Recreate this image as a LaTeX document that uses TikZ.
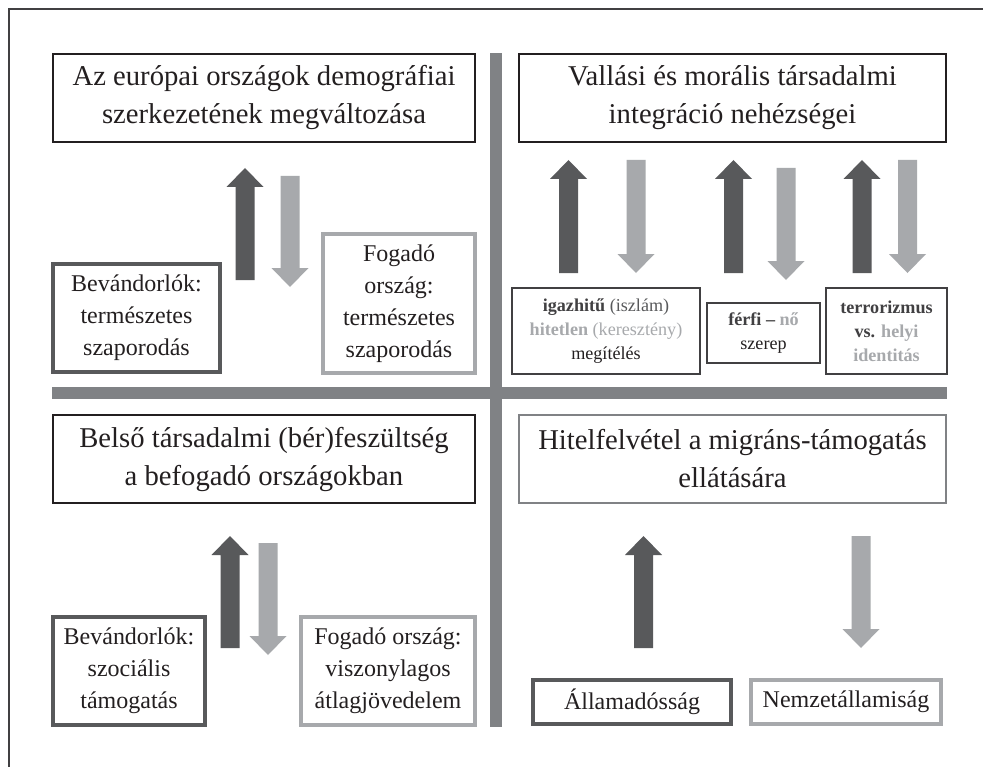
\documentclass[tikz,border=0pt]{standalone}
\usepackage{fontspec}
\setmainfont{Liberation Serif}
\definecolor{ink}{HTML}{231F20}
\definecolor{darkg}{HTML}{58595B}
\definecolor{lightg}{HTML}{A7A9AC}
\definecolor{barg}{HTML}{808285}
\definecolor{frameg}{HTML}{414042}
\newcommand\arrUp[4]{%
  \fill[#1] ({#2-9.5},#4) -- ({#2-9.5},{#3+19}) -- ({#2-18.5},{#3+19}) -- (#2,#3) -- ({#2+18.5},{#3+19}) -- ({#2+9.5},{#3+19}) -- ({#2+9.5},#4) -- cycle;}
\newcommand\arrDown[4]{%
  \fill[#1] ({#2-9.5},#3) -- ({#2-9.5},{#4-19}) -- ({#2-18.5},{#4-19}) -- (#2,#4) -- ({#2+18.5},{#4-19}) -- ({#2+9.5},{#4-19}) -- ({#2+9.5},#3) -- cycle;}
\tikzset{
  titlebox/.style={draw=ink, line width=1.5pt, align=center, inner sep=0pt, text=ink,
    font=\fontsize{21.5}{28.5}\selectfont, minimum height=66pt},
  migbox/.style={draw=darkg, line width=2.8pt, align=center, inner sep=0pt, text=ink,
    font=\fontsize{18}{24}\selectfont},
  hostbox/.style={draw=lightg, line width=2.8pt, align=center, inner sep=0pt, text=ink,
    font=\fontsize{18}{24}\selectfont},
  smallbox/.style={draw=frameg, line width=1.2pt, align=center, inner sep=0pt, text=ink,
    font=\fontsize{13.6}{18}\selectfont},
  bar/.style={fill=barg}
}
\begin{document}
\begin{tikzpicture}[x=0.75pt,y=-0.75pt]
\useasboundingbox (0,0) rectangle (983,767);
\fill[white] (0,0) rectangle (983,767);
% outer frame (top and left only)
\draw[frameg, line width=1.3pt] (9,767) -- (9,9) -- (983,9);
% separator bars
\fill[bar] (490,53) rectangle (502,727);
\fill[bar] (52,387) rectangle (947,399);

% top-left quadrant
\node[titlebox, minimum width=316.5pt] (t1) at (264,98) {Az európai országok demográfiai\\szerkezetének megváltozása};
\node[migbox, minimum width=125.25pt, minimum height=81pt] (b1) at (136.5,318) {Bevándorlók:\\természetes\\szaporodás};
\node[hostbox, minimum width=114pt, minimum height=104.25pt] (f1) at (399,303.5) {Fogadó\\ország:\\természetes\\szaporodás};
\arrUp{darkg}{245}{168}{280}
\arrDown{lightg}{290}{176}{287}

% top-right quadrant
\node[titlebox, minimum width=320.25pt] (t2) at (732.5,98) {Vallási és morális társadalmi\\integráció nehézségei};
\node[smallbox, minimum width=141pt, minimum height=64.5pt] (r1) at (606,331)
  {\textbf{\textcolor{frameg}{igazhitű}} \textcolor{darkg}{(iszlám)}\\
   \textbf{\textcolor{lightg}{hitetlen}} \textcolor{lightg}{(keresztény)}\\
   megítélés};
\node[smallbox, minimum width=84.75pt, minimum height=45pt] (r2) at (763.5,333)
  {\textbf{\textcolor{frameg}{férfi –} \textcolor{lightg}{nő}}\\szerep};
\node[smallbox, minimum width=90.75pt, minimum height=64.5pt] (r3) at (886.5,331)
  {\textbf{\textcolor{frameg}{terrorizmus}}\\
   \textbf{\textcolor{frameg}{vs.} \textcolor{lightg}{helyi}}\\
   \textbf{\textcolor{lightg}{identitás}}};
\arrUp{darkg}{568.5}{160}{273}
\arrDown{lightg}{636}{160}{273}
\arrUp{darkg}{733.5}{160}{273}
\arrDown{lightg}{786}{168}{280}
\arrUp{darkg}{862}{160}{273}
\arrDown{lightg}{907.5}{160}{273}

% bottom-left quadrant
\node[titlebox, minimum width=316.5pt] (t3) at (264,459) {Belső társadalmi (bér)feszültség\\a befogadó országokban};
\node[migbox, minimum width=114pt, minimum height=81pt] (b3) at (129,671) {Bevándorlók:\\szociális\\támogatás};
\node[hostbox, minimum width=130.5pt, minimum height=81pt] (f3) at (388,671) {Fogadó ország:\\viszonylagos\\átlagjövedelem};
\arrUp{darkg}{230}{536}{648}
\arrDown{lightg}{268}{543}{655}

% bottom-right quadrant
\node[titlebox, draw=barg, minimum width=320.25pt] (t4) at (732.5,459) {Hitelfelvétel a migráns-támogatás\\ellátására};
\node[migbox, minimum width=148.5pt, minimum height=33pt] (a4) at (632,702) {Államadósság};
\node[hostbox, minimum width=142.5pt, minimum height=33pt] (n4) at (846,702) {Nemzetállamiság};
\arrUp{darkg}{643.5}{536}{648}
\arrDown{lightg}{861}{536}{648}
\end{tikzpicture}
\end{document}
